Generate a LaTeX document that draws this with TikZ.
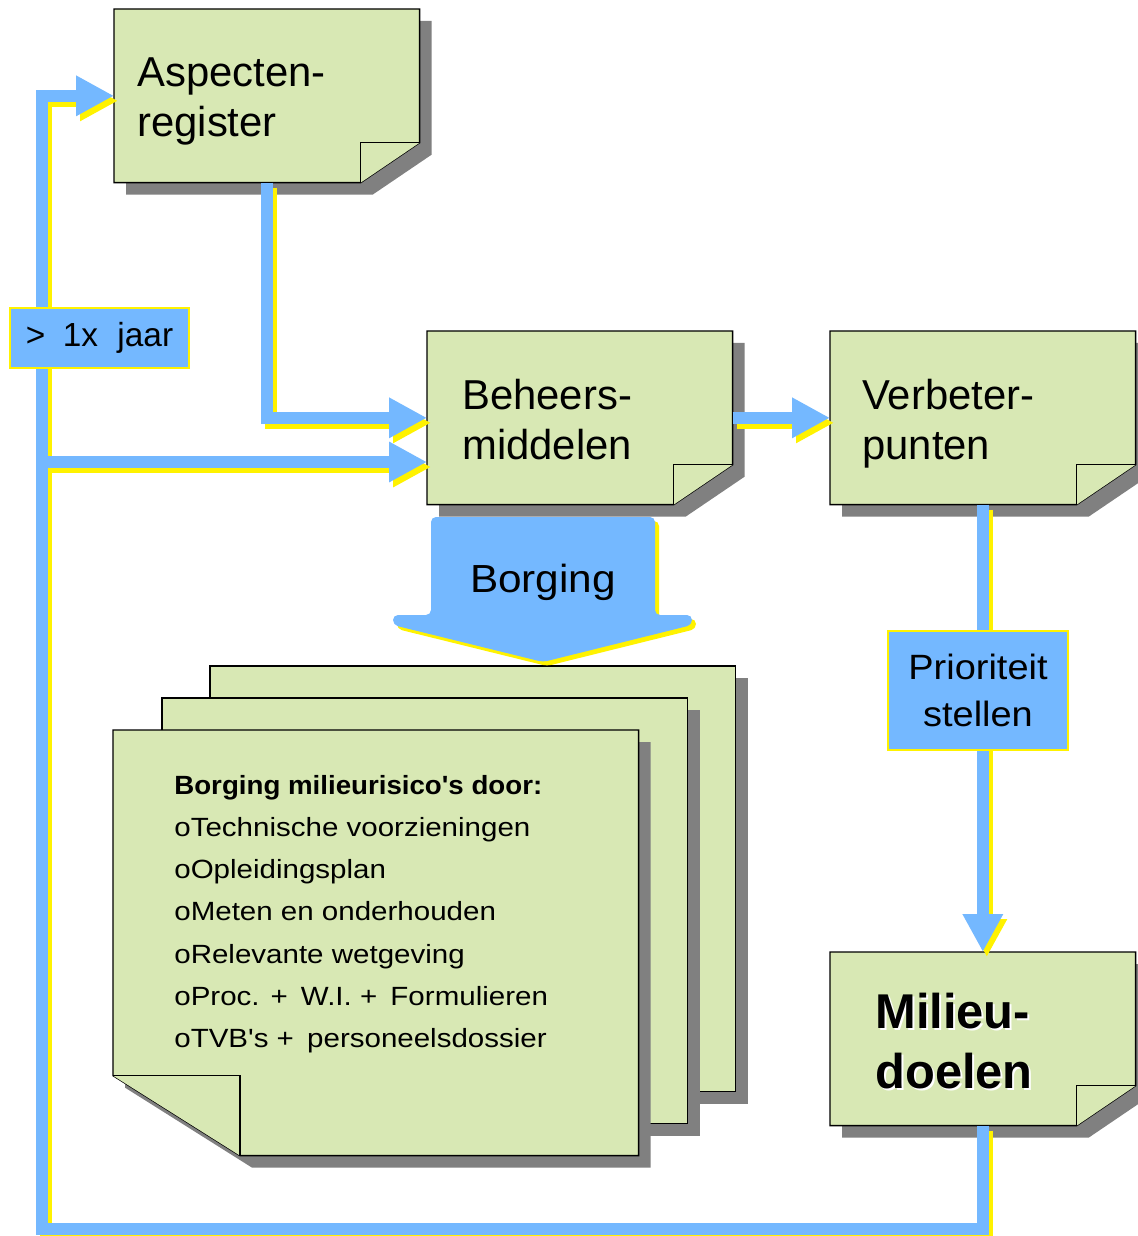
\documentclass[tikz,border=0pt]{standalone}
\usepackage{fontspec}
\setmainfont{Liberation Sans}
\newfontfamily\widefont[FakeStretch=1.12]{Liberation Sans}
\newfontfamily\headfont[FakeStretch=1.05]{Liberation Sans}
\newfontfamily\tagfont[FakeStretch=1.08]{Liberation Sans}
\usetikzlibrary{arrows.meta}

\definecolor{notegreen}{HTML}{D8E8B4}
\definecolor{flowblue}{HTML}{74B8FF}
\definecolor{shadowgray}{HTML}{808080}

% note sheet, folded corner bottom right
\newcommand\notesheet[1]{%
  \fill[shadowgray] ([shift={(12,12)}]#1.north west) -- ([shift={(12,12)}]#1.north east)
    -- ([shift={(12,-28)}]#1.south east) -- ([shift={(-47,12)}]#1.south east)
    -- ([shift={(12,12)}]#1.south west) -- cycle;
  \filldraw[notebody] (#1.north west) -- (#1.north east) -- ([shift={(0,-40)}]#1.south east)
    -- ([shift={(-59,0)}]#1.south east) -- (#1.south west) -- cycle;
  \filldraw[notebody] ([shift={(-59,0)}]#1.south east) -- ([shift={(-59,-40)}]#1.south east)
    -- ([shift={(0,-40)}]#1.south east);
}
% plain sheet of the stack
\newcommand\flatsheet[1]{%
  \fill[shadowgray] ([shift={(12,12)}]#1.north west) rectangle ([shift={(12,12)}]#1.south east);
  \filldraw[notebody] (#1.north west) rectangle (#1.south east);
}
% front sheet, folded corner bottom left
\newcommand\frontsheet[1]{%
  \fill[white] ([shift={(-3,-80)}]#1.south west) -- ([shift={(145,16)}]#1.south west)
    -- ([shift={(-3,16)}]#1.south west) -- cycle;
  \fill[shadowgray] ([shift={(12,12)}]#1.north west) -- ([shift={(12,12)}]#1.north east)
    -- ([shift={(12,12)}]#1.south east) -- ([shift={(139,12)}]#1.south west)
    -- ([shift={(12,-68)}]#1.south west) -- cycle;
  \filldraw[notebody] (#1.north west) -- (#1.north east) -- (#1.south east)
    -- ([shift={(127,0)}]#1.south west) -- ([shift={(0,-80)}]#1.south west) -- cycle;
  \filldraw[notebody] ([shift={(127,0)}]#1.south west) -- ([shift={(127,-80)}]#1.south west)
    -- ([shift={(0,-80)}]#1.south west);
}
\newcommand\flowpaths[1]{%
  \draw[flow,#1] (mil.south) |- (loopbl) |- (asp.west);
  \draw[flow,#1] (split) -- (split -| beh.west);
  \draw[flow,#1] (asp.south) |- (beh.west);
  \draw[flow,#1] (beh.east) -- (ver.west);
  \draw[flow,#1] (ver.south) -- (mil.north);
}

\begin{document}
\begin{tikzpicture}[x=0.02cm, y=-0.02cm,
    note/.style={anchor=north west, minimum width=6.1cm, minimum height=3.46cm, inner sep=0pt},
    sheet/.style={anchor=north west, minimum width=10.5cm, minimum height=8.5cm, inner sep=0pt},
    notebody/.style={fill=notegreen, draw=black, line width=0.8pt},
    notetext/.style={anchor=north west, align=left, inner sep=0pt, font=\fontsize{23.8}{28.5}\selectfont},
    bigtext/.style={anchor=north west, align=left, inner sep=0pt, font=\bfseries\fontsize{27.8}{34}\selectfont},
    listtext/.style={anchor=north west, align=left, inner sep=0pt, font=\widefont\fontsize{15}{24}\selectfont},
    tag/.style={fill=flowblue, draw=yellow, line width=1.5pt, inner sep=0pt, align=center},
    flow/.style={draw=flowblue, line width=0.24cm, -{Triangle[length=0.76cm, width=0.76cm]}},
    shade/.style={draw=yellow, transform canvas={shift={(4,5)}}}]
  \useasboundingbox (0,0) rectangle (1138,1236);

  \node[note] (asp) at (114,9) {};
  \node[note] (beh) at (427,331) {};
  \node[note] (ver) at (830,331) {};
  \node[note] (mil) at (830,952) {};
  \node[sheet] (sheetc) at (210,666) {};
  \node[sheet] (sheetb) at (162,698) {};
  \node[sheet] (sheeta) at (113,730) {};
  \coordinate (loopbl) at (42,1229);
  \coordinate (split) at (42,462);

  \notesheet{asp}
  \notesheet{beh}
  \notesheet{ver}
  \notesheet{mil}
  \flatsheet{sheetc}
  \flatsheet{sheetb}
  \frontsheet{sheeta}

  \flowpaths{shade}
  \flowpaths{}

  \foreach \c/\s in {yellow/4, flowblue/0}
    \fill[fill=\c, shift={(\s,\s)}, rounded corners=0.1cm]
      (431,517) -- (655,517) -- (655,615) -- (692,615) -- (692,625)
      -- (543,662) -- (393,625) -- (393,615) -- (431,615) -- cycle;

  \node[tag, minimum width=3.58cm, minimum height=1.2cm, font=\fontsize{19}{23}\selectfont]
    (jaar) at (99.5,338) {>\hspace{0.25em} 1x\hspace{0.3em} jaar};
  \node[tag, minimum width=3.6cm, minimum height=2.38cm, font=\tagfont\fontsize{20}{26.7}\selectfont]
    (prio) at (978,690.5) {Prioriteit\\stellen};
  \node[inner sep=0pt, font=\tagfont\fontsize{22.3}{26}\selectfont] (borg) at (543,582) {Borging};

  \node[notetext] (asptxt) at ([shift={(23,48)}]asp.north west) {Aspecten-\\register};
  \node[notetext] (behtxt) at ([shift={(35,48)}]beh.north west) {Beheers-\\middelen};
  \node[notetext] (vertxt) at ([shift={(32,48)}]ver.north west) {Verbeter-\\punten};
  \node[bigtext, text=white] (milshade) at ([shift={(47,43)}]mil.north west) {Milieu-\\doelen};
  \node[bigtext] (miltxt) at ([shift={(45,41)}]mil.north west) {Milieu-\\doelen};
  \node[listtext] (listtxt) at ([shift={(61,45)}]sheeta.north west)
    {{\headfont\bfseries Borging milieurisico's door:}\\
     oTechnische voorzieningen\\
     oOpleidingsplan\\
     oMeten en onderhouden\\
     oRelevante wetgeving\\
     oProc. +\enspace W.I. +\enspace Formulieren\\
     oTVB's +\enspace personeelsdossier};
\end{tikzpicture}
\end{document}
